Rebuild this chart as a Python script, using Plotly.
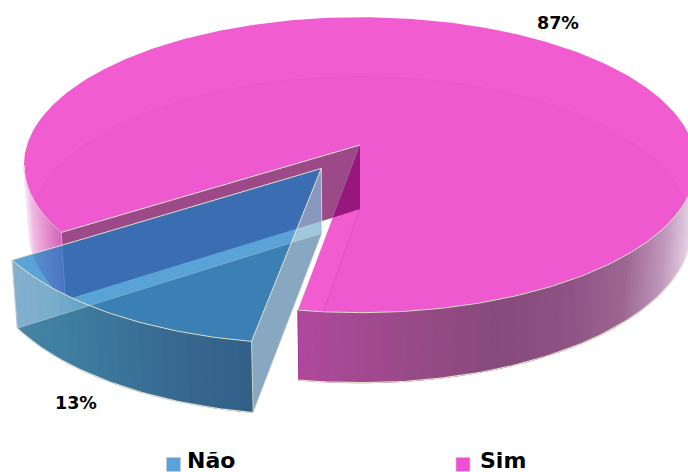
import numpy as np
import plotly.graph_objects as go

# Survey result drawn as an exploded 3D pie
labels = ["Não", "Sim"]
shares = [13, 87]
share_text = ["13%", "87%"]

# Projection of the disc onto the page (pixels)
CX, CY = 360.0, 145.0
RX, RY = 333.0, 145.0
PERSP = 0.135
SHRINK = 0.985
START_DEG = 9.3
EXPLODE = 0.195
EXPLODE_TURN_DEG = 3.0

# Shading stops along the page's x direction
SIM_RIM_STOPS = [(24, (248, 232, 246)), (30, (240, 190, 228)), (45, (228, 140, 205)), (60, (210, 100, 185)),
                 (296, (176, 72, 156)), (420, (150, 74, 134)), (500, (135, 74, 124)),
                 (570, (142, 82, 132)), (625, (156, 102, 146)), (665, (192, 152, 188)),
                 (692, (228, 210, 228))]
NAO_OVER_FLOOR = [(10, (72, 132, 165)), (70, (60, 125, 160)), (170, (55, 105, 145)), (255, (50, 95, 135))]
NAO_OVER_PAPER = [(10, (130, 176, 205)), (50, (122, 173, 204)), (90, (95, 160, 198))]
EDGE = "rgba(232,228,208,0.95)"


def project(theta_deg, radius=1.0, shift=(0.0, 0.0), bottom=False):
    t = np.radians(np.asarray(theta_deg, dtype=float))
    wx = -np.sin(t) * radius + shift[0]
    wy = np.cos(t) * radius + shift[1]
    s = 1.0 / (1.0 - PERSP * wy)
    x = CX + RX * wx * s
    y = CY + RY * wy * s
    if bottom:
        x = CX + (x - CX) * SHRINK
        y = y + 25 + 39 * s
    return x, y


def shade(x, stops):
    xs = [p[0] for p in stops]
    r, g, b = [float(np.interp(x, xs, [p[1][i] for p in stops])) for i in range(3)]
    return f"rgb({r:.0f},{g:.0f},{b:.0f})"


def clip_below(points, a, b, keep_below):
    # Half-plane clip of a polygon against the line through a and b
    def side(p):
        v = (p[1] - a[1]) - (b[1] - a[1]) * (p[0] - a[0]) / (b[0] - a[0])
        return v if keep_below else -v
    out = []
    for i, p in enumerate(points):
        q = points[(i + 1) % len(points)]
        sp, sq = side(p), side(q)
        if sp >= 0:
            out.append(p)
        if sp * sq < 0:
            u = sp / (sp - sq)
            out.append((p[0] + (q[0] - p[0]) * u, p[1] + (q[1] - p[1]) * u))
    return out


fig = go.Figure()


def poly(xs, ys, fill, seal=0.0):
    line = dict(width=seal, color=fill) if seal else dict(width=0)
    fig.add_trace(go.Scatter(x=list(xs), y=list(ys), mode="lines", fill="toself", fillcolor=fill,
                             line=line, hoverinfo="skip", showlegend=False))


def stroke(xs, ys, color=EDGE, width=1.0):
    fig.add_trace(go.Scatter(x=list(xs), y=list(ys), mode="lines", line=dict(color=color, width=width),
                             hoverinfo="skip", showlegend=False))


span_nao = 360.0 * shares[0] / sum(shares)
a_start, a_end = START_DEG, START_DEG + span_nao
mid = np.radians((a_start + a_end) / 2 + EXPLODE_TURN_DEG)
offset = (-np.sin(mid) * EXPLODE, np.cos(mid) * EXPLODE)

# Sim: top face and the floor faintly visible through it
sim_t = np.arange(a_end, a_start + 360.0 + 0.5, 1.0)
sim_t[-1] = a_start + 360.0
tx, ty = project(sim_t)
poly(np.r_[CX, tx], np.r_[CY, ty], "rgb(241,92,209)")
bx, by = project(sim_t, bottom=True)
ax0, ay0 = project(0.0, radius=0.0, bottom=True)
poly(np.r_[ax0, bx], np.r_[ay0, by], "rgba(225,40,190,0.05)")
stroke(bx, by, color="rgba(200,70,170,0.3)", width=0.6)

# Sim: outer rim, shaded strip by strip over its visible stretch
for t0 in np.arange(a_end, a_start + 360.0, 1.0):
    t1 = min(t0 + 1.0, a_start + 360.0)
    if np.cos(np.radians(t0)) < PERSP or np.cos(np.radians(t1)) < PERSP:
        continue
    x0, y0 = project(t0)
    x1, y1 = project(t1)
    x2, y2 = project(t1, bottom=True)
    x3, y3 = project(t0, bottom=True)
    poly([x0, x1, x2, x3, x0], [y0, y1, y2, y3, y0], shade((x0 + x1) / 2, SIM_RIM_STOPS), seal=1.0)

# Sim: cut wall behind the gap
ex, ey = project(a_end)
ebx, eby = project(a_end, bottom=True)
sx, sy = project(a_start)
frac = 0.44
px, py = CX + (sx - CX) * frac, CY + (sy - CY) * frac
poly([CX, ex, ebx, px], [CY, ey, eby, py], "rgb(156,74,135)")
poly([CX, ax0, px], [CY, ay0, py], "rgb(150,24,125)")

# Sim: outlines
vis = sim_t[np.cos(np.radians(sim_t)) >= PERSP]
front = vis[vis > 180]
stroke(*project(front))
stroke(*project(front, bottom=True), width=1.2)
left = vis[vis < 180]
stroke(*project(left), color="rgba(232,200,225,0.7)")
stroke([CX, ex], [CY, ey])
stroke([ex, ebx], [ey, eby], color="rgba(232,228,208,0.6)")
stroke([px, sx], [py, sy], color="rgba(232,228,208,0.5)", width=0.6)
sbx, sby = project(a_start, bottom=True)
stroke([sx, sbx], [sy, sby], color="rgba(150,40,130,0.7)", width=0.8)
stroke([ax0, sbx], [ay0, sby], color="rgba(190,60,150,0.5)", width=0.7)

# Não: exploded slice, translucent top over an opaque floor
nao_t = np.arange(a_start, a_end + 0.01, 1.0)
nao_t[-1] = a_end
nx, ny = project(nao_t, shift=offset)
nbx, nby = project(nao_t, shift=offset, bottom=True)
apx, apy = project(0.0, radius=0.0, shift=offset)
abx, aby = project(0.0, radius=0.0, shift=offset, bottom=True)
lx, ly = project(a_end, shift=offset)
lbx, lby = project(a_end, shift=offset, bottom=True)
poly(np.r_[abx, nbx], np.r_[aby, nby], "rgb(150,137,146)")
poly(np.r_[apx, nx], np.r_[apy, ny], "rgba(19,124,196,0.70)")

# Não: outer side, lighter where it has only paper behind it
for t0 in np.arange(a_start, a_end - 1e-6, 2.0):
    t1 = min(t0 + 2.0, a_end)
    quad = [tuple(map(float, project(t0, shift=offset))), tuple(map(float, project(t1, shift=offset))),
            tuple(map(float, project(t1, shift=offset, bottom=True))), tuple(map(float, project(t0, shift=offset, bottom=True)))]
    xm = (quad[0][0] + quad[1][0]) / 2
    for keep_below, stops in ((True, NAO_OVER_FLOOR), (False, NAO_OVER_PAPER)):
        part = clip_below(quad, (lbx, lby), (abx, aby), keep_below)
        if len(part) >= 3:
            xs, ys = zip(*(part + part[:1]))
            poly(xs, ys, shade(xm, stops), seal=0.8)

fx, fy = project(a_start, shift=offset)
fbx, fby = project(a_start, shift=offset, bottom=True)
poly([apx, fx, fbx, abx], [apy, fy, fby, aby], "rgba(131,179,208,0.75)")

# Não: outlines
stroke(nx, ny)
stroke(nbx, nby, width=1.2)
stroke([lx, apx, fx], [ly, apy, fy])
stroke([lx, lbx], [ly, lby], color="rgba(232,228,208,0.5)")
stroke([fx, fbx, abx, apx], [fy, fby, aby, apy], color="rgba(232,228,208,0.8)")
stroke([lbx, abx], [lby, aby], color="rgba(232,228,208,0.35)", width=0.8)

# Legend swatches
fig.add_trace(go.Scatter(x=[173.5, 463], y=[464.5, 464.5], mode="markers", hoverinfo="skip", showlegend=False,
                         marker=dict(symbol="square", size=14, color=["#5aa3d8", "#f04fd2"],
                                     line=dict(width=1, color="rgba(200,200,200,0.7)"))))

texts = [
    (share_text[0], 75.5, 403, 17.5),
    (share_text[1], 557.5, 23, 17.5),
    (labels[0], 211, 460, 22),
    (labels[1], 503, 460, 22),
]
for txt, x, y, size in texts:
    fig.add_annotation(x=x, y=y, text=f"<b>{txt}</b>", showarrow=False, xanchor="center", yanchor="middle",
                       font=dict(family="DejaVu Sans", size=size, color="black"))

fig.update_layout(
    width=688, height=472, margin=dict(l=0, r=0, t=0, b=0),
    paper_bgcolor="white", plot_bgcolor="white", showlegend=False,
    xaxis=dict(range=[0, 688], visible=False, fixedrange=True),
    yaxis=dict(range=[472, 0], visible=False, fixedrange=True),
)
fig.write_html("out.html", config={"displayModeBar": False})
